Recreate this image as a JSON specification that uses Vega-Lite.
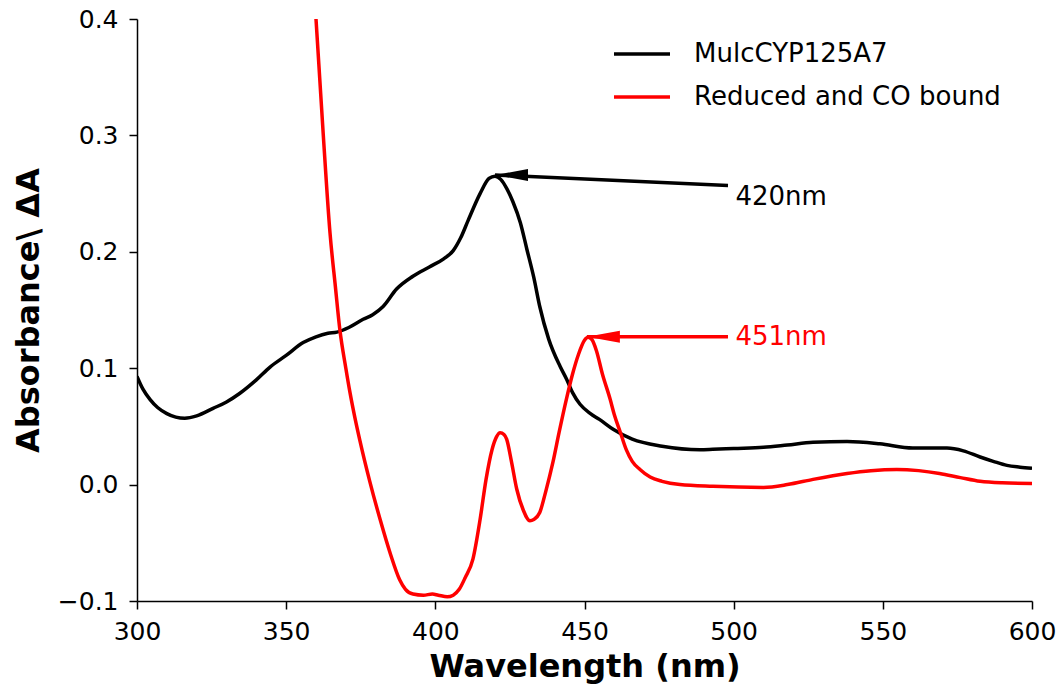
{
  "$schema": "https://vega.github.io/schema/vega-lite/v6.json",
  "width": 895,
  "height": 582,
  "autosize": "none",
  "padding": {"left": 137, "top": 19, "right": 31, "bottom": 91},
  "background": "white",
  "config": {"view": {"stroke": null}, "font": "DejaVu Sans"},
  "datasets": {
    "spectra": [
      {"wl": 300, "abs": 0.093, "series": "MulcCYP125A7"},
      {"wl": 302, "abs": 0.082, "series": "MulcCYP125A7"},
      {"wl": 304.4, "abs": 0.073, "series": "MulcCYP125A7"},
      {"wl": 307, "abs": 0.066, "series": "MulcCYP125A7"},
      {"wl": 310, "abs": 0.061, "series": "MulcCYP125A7"},
      {"wl": 313, "abs": 0.058, "series": "MulcCYP125A7"},
      {"wl": 316, "abs": 0.057, "series": "MulcCYP125A7"},
      {"wl": 320, "abs": 0.059, "series": "MulcCYP125A7"},
      {"wl": 325.5, "abs": 0.0655, "series": "MulcCYP125A7"},
      {"wl": 330, "abs": 0.071, "series": "MulcCYP125A7"},
      {"wl": 334.5, "abs": 0.0785, "series": "MulcCYP125A7"},
      {"wl": 340, "abs": 0.09, "series": "MulcCYP125A7"},
      {"wl": 344.6, "abs": 0.101, "series": "MulcCYP125A7"},
      {"wl": 350, "abs": 0.111, "series": "MulcCYP125A7"},
      {"wl": 355.7, "abs": 0.122, "series": "MulcCYP125A7"},
      {"wl": 360, "abs": 0.127, "series": "MulcCYP125A7"},
      {"wl": 364, "abs": 0.13, "series": "MulcCYP125A7"},
      {"wl": 367, "abs": 0.131, "series": "MulcCYP125A7"},
      {"wl": 371, "abs": 0.135, "series": "MulcCYP125A7"},
      {"wl": 375.8, "abs": 0.142, "series": "MulcCYP125A7"},
      {"wl": 379, "abs": 0.146, "series": "MulcCYP125A7"},
      {"wl": 382.5, "abs": 0.153, "series": "MulcCYP125A7"},
      {"wl": 387, "abs": 0.168, "series": "MulcCYP125A7"},
      {"wl": 392.5, "abs": 0.179, "series": "MulcCYP125A7"},
      {"wl": 398, "abs": 0.187, "series": "MulcCYP125A7"},
      {"wl": 402.8, "abs": 0.194, "series": "MulcCYP125A7"},
      {"wl": 406, "abs": 0.201, "series": "MulcCYP125A7"},
      {"wl": 408.5, "abs": 0.212, "series": "MulcCYP125A7"},
      {"wl": 411, "abs": 0.227, "series": "MulcCYP125A7"},
      {"wl": 415, "abs": 0.25, "series": "MulcCYP125A7"},
      {"wl": 418, "abs": 0.263, "series": "MulcCYP125A7"},
      {"wl": 420, "abs": 0.265, "series": "MulcCYP125A7"},
      {"wl": 422, "abs": 0.262, "series": "MulcCYP125A7"},
      {"wl": 424, "abs": 0.254, "series": "MulcCYP125A7"},
      {"wl": 426, "abs": 0.243, "series": "MulcCYP125A7"},
      {"wl": 428.5, "abs": 0.225, "series": "MulcCYP125A7"},
      {"wl": 430.7, "abs": 0.202, "series": "MulcCYP125A7"},
      {"wl": 433, "abs": 0.178, "series": "MulcCYP125A7"},
      {"wl": 435, "abs": 0.153, "series": "MulcCYP125A7"},
      {"wl": 438, "abs": 0.125, "series": "MulcCYP125A7"},
      {"wl": 441.8, "abs": 0.1016, "series": "MulcCYP125A7"},
      {"wl": 444, "abs": 0.0905, "series": "MulcCYP125A7"},
      {"wl": 446, "abs": 0.079, "series": "MulcCYP125A7"},
      {"wl": 448.5, "abs": 0.069, "series": "MulcCYP125A7"},
      {"wl": 452, "abs": 0.061, "series": "MulcCYP125A7"},
      {"wl": 455, "abs": 0.056, "series": "MulcCYP125A7"},
      {"wl": 459.6, "abs": 0.0475, "series": "MulcCYP125A7"},
      {"wl": 466, "abs": 0.039, "series": "MulcCYP125A7"},
      {"wl": 476, "abs": 0.033, "series": "MulcCYP125A7"},
      {"wl": 488.7, "abs": 0.03, "series": "MulcCYP125A7"},
      {"wl": 493, "abs": 0.0303, "series": "MulcCYP125A7"},
      {"wl": 500, "abs": 0.031, "series": "MulcCYP125A7"},
      {"wl": 510, "abs": 0.032, "series": "MulcCYP125A7"},
      {"wl": 518, "abs": 0.034, "series": "MulcCYP125A7"},
      {"wl": 526.6, "abs": 0.0363, "series": "MulcCYP125A7"},
      {"wl": 538, "abs": 0.037, "series": "MulcCYP125A7"},
      {"wl": 549, "abs": 0.035, "series": "MulcCYP125A7"},
      {"wl": 560, "abs": 0.0314, "series": "MulcCYP125A7"},
      {"wl": 571.5, "abs": 0.0314, "series": "MulcCYP125A7"},
      {"wl": 577, "abs": 0.029, "series": "MulcCYP125A7"},
      {"wl": 582.6, "abs": 0.0237, "series": "MulcCYP125A7"},
      {"wl": 587, "abs": 0.02, "series": "MulcCYP125A7"},
      {"wl": 591.6, "abs": 0.0165, "series": "MulcCYP125A7"},
      {"wl": 596, "abs": 0.015, "series": "MulcCYP125A7"},
      {"wl": 600, "abs": 0.014, "series": "MulcCYP125A7"},
      {"wl": 360, "abs": 0.4, "series": "Reduced and CO bound"},
      {"wl": 362.4, "abs": 0.302, "series": "Reduced and CO bound"},
      {"wl": 364.7, "abs": 0.216, "series": "Reduced and CO bound"},
      {"wl": 366.5, "abs": 0.17, "series": "Reduced and CO bound"},
      {"wl": 368, "abs": 0.133, "series": "Reduced and CO bound"},
      {"wl": 370, "abs": 0.1, "series": "Reduced and CO bound"},
      {"wl": 371.4, "abs": 0.079, "series": "Reduced and CO bound"},
      {"wl": 373, "abs": 0.058, "series": "Reduced and CO bound"},
      {"wl": 374.7, "abs": 0.038, "series": "Reduced and CO bound"},
      {"wl": 378, "abs": 0.003, "series": "Reduced and CO bound"},
      {"wl": 381.5, "abs": -0.03, "series": "Reduced and CO bound"},
      {"wl": 385, "abs": -0.06, "series": "Reduced and CO bound"},
      {"wl": 388, "abs": -0.0815, "series": "Reduced and CO bound"},
      {"wl": 390, "abs": -0.09, "series": "Reduced and CO bound"},
      {"wl": 392.5, "abs": -0.094, "series": "Reduced and CO bound"},
      {"wl": 396, "abs": -0.095, "series": "Reduced and CO bound"},
      {"wl": 399, "abs": -0.094, "series": "Reduced and CO bound"},
      {"wl": 401, "abs": -0.095, "series": "Reduced and CO bound"},
      {"wl": 404, "abs": -0.0964, "series": "Reduced and CO bound"},
      {"wl": 406, "abs": -0.095, "series": "Reduced and CO bound"},
      {"wl": 408, "abs": -0.09, "series": "Reduced and CO bound"},
      {"wl": 410, "abs": -0.08, "series": "Reduced and CO bound"},
      {"wl": 412.6, "abs": -0.064, "series": "Reduced and CO bound"},
      {"wl": 415, "abs": -0.03, "series": "Reduced and CO bound"},
      {"wl": 417, "abs": 0.0045, "series": "Reduced and CO bound"},
      {"wl": 419, "abs": 0.03, "series": "Reduced and CO bound"},
      {"wl": 420.5, "abs": 0.041, "series": "Reduced and CO bound"},
      {"wl": 421.7, "abs": 0.0446, "series": "Reduced and CO bound"},
      {"wl": 423, "abs": 0.043, "series": "Reduced and CO bound"},
      {"wl": 423.9, "abs": 0.039, "series": "Reduced and CO bound"},
      {"wl": 425.5, "abs": 0.02, "series": "Reduced and CO bound"},
      {"wl": 427.3, "abs": -0.004, "series": "Reduced and CO bound"},
      {"wl": 429.5, "abs": -0.022, "series": "Reduced and CO bound"},
      {"wl": 431.7, "abs": -0.031, "series": "Reduced and CO bound"},
      {"wl": 433, "abs": -0.03, "series": "Reduced and CO bound"},
      {"wl": 435, "abs": -0.024, "series": "Reduced and CO bound"},
      {"wl": 437, "abs": -0.006, "series": "Reduced and CO bound"},
      {"wl": 439.4, "abs": 0.019, "series": "Reduced and CO bound"},
      {"wl": 441.5, "abs": 0.045, "series": "Reduced and CO bound"},
      {"wl": 443.9, "abs": 0.073, "series": "Reduced and CO bound"},
      {"wl": 446, "abs": 0.095, "series": "Reduced and CO bound"},
      {"wl": 448, "abs": 0.112, "series": "Reduced and CO bound"},
      {"wl": 450, "abs": 0.124, "series": "Reduced and CO bound"},
      {"wl": 451.2, "abs": 0.1266, "series": "Reduced and CO bound"},
      {"wl": 452.5, "abs": 0.1245, "series": "Reduced and CO bound"},
      {"wl": 454, "abs": 0.115, "series": "Reduced and CO bound"},
      {"wl": 456, "abs": 0.095, "series": "Reduced and CO bound"},
      {"wl": 458.6, "abs": 0.0733, "series": "Reduced and CO bound"},
      {"wl": 460, "abs": 0.06, "series": "Reduced and CO bound"},
      {"wl": 462, "abs": 0.045, "series": "Reduced and CO bound"},
      {"wl": 464, "abs": 0.03, "series": "Reduced and CO bound"},
      {"wl": 466, "abs": 0.02, "series": "Reduced and CO bound"},
      {"wl": 468.6, "abs": 0.013, "series": "Reduced and CO bound"},
      {"wl": 472, "abs": 0.0065, "series": "Reduced and CO bound"},
      {"wl": 476, "abs": 0.0028, "series": "Reduced and CO bound"},
      {"wl": 482, "abs": 0.0, "series": "Reduced and CO bound"},
      {"wl": 493, "abs": -0.0015, "series": "Reduced and CO bound"},
      {"wl": 510, "abs": -0.0024, "series": "Reduced and CO bound"},
      {"wl": 518, "abs": 0.0, "series": "Reduced and CO bound"},
      {"wl": 526.6, "abs": 0.0045, "series": "Reduced and CO bound"},
      {"wl": 538, "abs": 0.0096, "series": "Reduced and CO bound"},
      {"wl": 546, "abs": 0.012, "series": "Reduced and CO bound"},
      {"wl": 554.7, "abs": 0.013, "series": "Reduced and CO bound"},
      {"wl": 562, "abs": 0.012, "series": "Reduced and CO bound"},
      {"wl": 569, "abs": 0.0096, "series": "Reduced and CO bound"},
      {"wl": 576, "abs": 0.006, "series": "Reduced and CO bound"},
      {"wl": 582.6, "abs": 0.0028, "series": "Reduced and CO bound"},
      {"wl": 590, "abs": 0.0015, "series": "Reduced and CO bound"},
      {"wl": 600, "abs": 0.001, "series": "Reduced and CO bound"}
    ],
    "arrows": [
      {"tipx": 420, "tipy": 0.266, "tailx": 498.1, "taily": 0.257, "col": "#000000", "label": "420nm", "textx": 500.6, "texty": 0.247},
      {"tipx": 450.8, "tipy": 0.127, "tailx": 498.1, "taily": 0.127, "col": "#ff0000", "label": "451nm", "textx": 500.6, "texty": 0.127}
    ]
  },
  "layer": [
    {
      "data": {"name": "spectra"},
      "mark": {"type": "line", "strokeWidth": 3.5, "clip": true, "interpolate": "monotone"},
      "encoding": {
        "x": {
          "field": "wl", "type": "quantitative",
          "scale": {"domain": [300, 600], "nice": false, "zero": false},
          "axis": {
            "values": [300, 350, 400, 450, 500, 550, 600],
            "format": "d",
            "title": "Wavelength (nm)",
            "titleFontSize": 32, "titleFontWeight": "bold", "titleColor": "#000000",
            "titlePadding": 7,
            "labelFontSize": 25, "labelColor": "#000000", "labelPadding": 10,
            "labelFlush": false, "labelOverlap": false,
            "tickSize": 8, "tickWidth": 1.5, "tickColor": "#000000",
            "domainColor": "#000000", "domainWidth": 1.5, "grid": false
          }
        },
        "y": {
          "field": "abs", "type": "quantitative",
          "scale": {"domain": [-0.1, 0.4], "nice": false, "zero": false},
          "axis": {
            "values": [-0.1, 0, 0.1, 0.2, 0.3, 0.4],
            "labelExpr": "replace(format(datum.value, '.1f'), '-', '\u2212')",
            "title": "Absorbance\\ \u0394A",
            "titleFontSize": 32, "titleFontWeight": "bold", "titleColor": "#000000",
            "titlePadding": 12,
            "labelFontSize": 25, "labelColor": "#000000", "labelPadding": 11,
            "labelFlush": false, "labelOverlap": false,
            "tickSize": 8, "tickWidth": 1.5, "tickColor": "#000000",
            "domainColor": "#000000", "domainWidth": 1.5, "grid": false
          }
        },
        "color": {
          "field": "series", "type": "nominal",
          "scale": {"domain": ["MulcCYP125A7", "Reduced and CO bound"], "range": ["#000000", "#ff0000"]},
          "legend": {
            "title": null,
            "orient": "none",
            "legendX": 491,
            "legendY": 13,
            "labelFontSize": 26,
            "labelColor": "#000000",
            "labelLimit": 0,
            "symbolType": "M-1.8,0L1,0",
            "symbolSize": 1600,
            "symbolStrokeWidth": 3.5,
            "labelOffset": 22,
            "rowPadding": 8,
            "padding": 0
          }
        }
      }
    },
    {
      "data": {"name": "arrows"},
      "mark": {"type": "rule", "strokeWidth": 3.5},
      "encoding": {
        "x": {"field": "tailx", "type": "quantitative"},
        "y": {"field": "taily", "type": "quantitative"},
        "x2": {"field": "tipx"},
        "y2": {"field": "tipy"},
        "color": {"field": "col", "type": "nominal", "scale": null}
      }
    },
    {
      "data": {"name": "arrows"},
      "mark": {"type": "point", "shape": "M0,0L2,-0.36L2,0.36Z", "filled": true, "opacity": 1, "size": 1089, "strokeWidth": 0},
      "encoding": {
        "x": {"field": "tipx", "type": "quantitative"},
        "y": {"field": "tipy", "type": "quantitative"},
        "color": {"field": "col", "type": "nominal", "scale": null}
      }
    },
    {
      "data": {"name": "arrows"},
      "mark": {"type": "text", "align": "left", "baseline": "middle", "fontSize": 26},
      "encoding": {
        "x": {"field": "textx", "type": "quantitative"},
        "y": {"field": "texty", "type": "quantitative"},
        "text": {"field": "label"},
        "color": {"field": "col", "type": "nominal", "scale": null}
      }
    }
  ]
}
